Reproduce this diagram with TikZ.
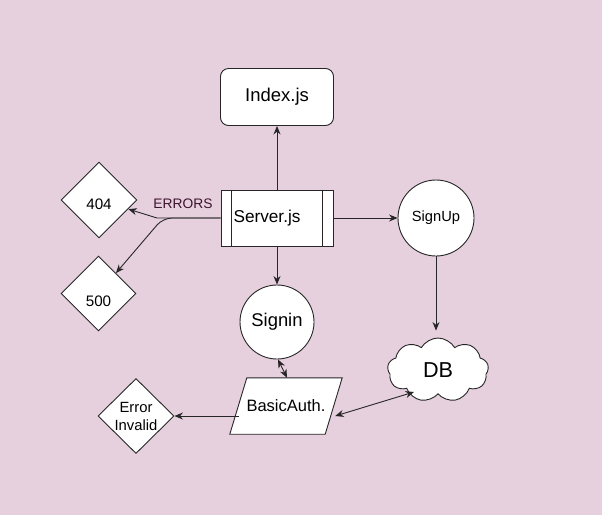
\documentclass[tikz,border=0pt]{standalone}
\usepackage{fontspec}
\setmainfont{Liberation Sans}
\usetikzlibrary{shapes.geometric,shapes.symbols,arrows.meta}
\definecolor{bgpink}{HTML}{E6D0DE}
\definecolor{errtxt}{RGB}{60,20,45}
\tikzset{
  shp/.style={draw=black!85, fill=white, line width=0.9pt, inner sep=0pt},
  conn/.style={draw=black!85, line width=0.9pt},
  tip/.style={-{Stealth[length=8.5pt,width=7pt]}},
  dtip/.style={{Stealth[length=8.5pt,width=7pt]}-{Stealth[length=8.5pt,width=7pt]}},
  dia/.style={shp, diamond, minimum width=76pt, minimum height=76pt},
}
\begin{document}
\begin{tikzpicture}[x=1pt,y=-1pt]
\fill[bgpink] (0,0) rectangle (602,515);
\useasboundingbox (0,0) rectangle (602,515);

% nodes
\node[shp, rectangle, rounded corners=8pt, minimum width=113pt, minimum height=57pt,
      font=\fontsize{18.5}{20}\selectfont] (index) at (277,97) {Index.js};
\node[shp, rectangle, minimum width=112pt, minimum height=56pt,
      label={[font=\fontsize{17.2}{19}\selectfont, xshift=-10pt]center:Server.js}] (server) at (277,218) {};
\draw[shp] ([xshift=11pt]server.north west) -- ([xshift=11pt]server.south west);
\draw[shp] ([xshift=-11pt]server.north east) -- ([xshift=-11pt]server.south east);

\node[shp, circle, minimum size=74pt, font=\fontsize{18.4}{20}\selectfont] (signin) at (277,322) {Signin};
\node[shp, circle, minimum size=76pt, font=\fontsize{14.7}{16}\selectfont] (signup) at (436,218) {SignUp};
\node[shp, cloud, cloud puffs=9, cloud puff arc=120, aspect=1.6, minimum width=101pt, minimum height=64pt,
      font=\fontsize{21.6}{23}\selectfont] (db) at (438,370) {DB};

% parallelogram
\node[rectangle, inner sep=0pt, minimum width=112pt, minimum height=56pt] (basic) at (286,406) {};
\draw[shp] ([xshift=17pt]basic.north west) -- (basic.north east) -- ([xshift=-17pt]basic.south east)
  -- (basic.south west) -- cycle;
\node[font=\fontsize{16.5}{18}\selectfont] (basictxt) at (basic.center) {BasicAuth.};

\node[dia, label={[font=\fontsize{15.2}{17}\selectfont, yshift=-4pt]center:404}] (d404) at (99,200) {};
\node[dia, minimum width=75pt, minimum height=75pt,
      label={[font=\fontsize{15.2}{17}\selectfont, yshift=-8pt]center:500}] (d500) at (98.5,293.5) {};
\node[dia, minimum width=76pt, minimum height=75pt,
      label={[font=\fontsize{14.8}{18}\selectfont, align=center]center:Error\\Invalid}] (err) at (136,416) {};

\node[font=\fontsize{13.8}{15}\selectfont, text=errtxt] (errlbl) at (183,204) {ERRORS};

% split points
\coordinate (sp1) at (157,218);
\coordinate (sp2) at (163,218);

% connectors
\draw[conn, tip] (server) -- (index);
\draw[conn, tip] (server) -- (signin);
\draw[conn, tip] (server) -- (signup);
\draw[conn, tip, shorten >=7pt] (signup.south) -- (signup.south |- db.north);
\draw[conn, tip] (server.west) -- (sp1) -- (d404);
\draw[conn, tip, rounded corners=9pt] (server.west) -- (sp2) -- (d500);
\draw[conn, dtip] ([xshift=1pt]signin.south) -- ([xshift=1pt]basic.north);
\draw[conn, dtip] ([xshift=-7pt,yshift=-10pt]basic.east) -- ([xshift=-24pt,yshift=-22pt]db.center);
\draw[conn, tip] ([xshift=9pt,yshift=-10pt]basic.west) -- (err);
\end{tikzpicture}
\end{document}
